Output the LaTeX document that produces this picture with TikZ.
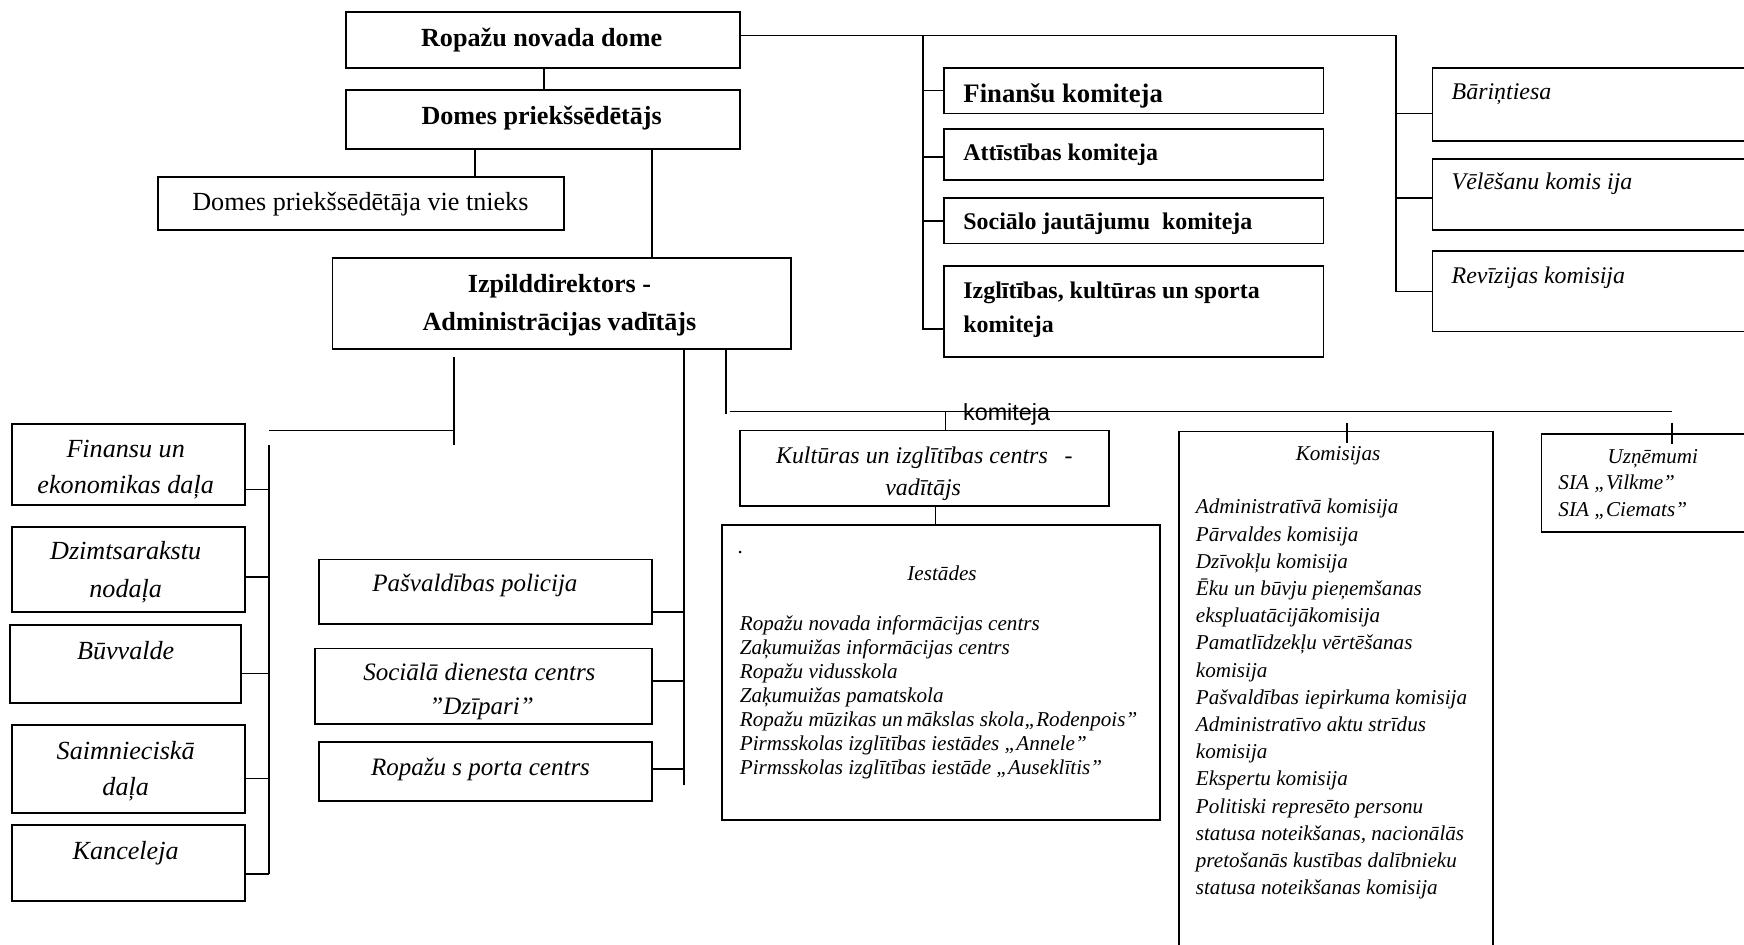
\documentclass[tikz,border=0pt]{standalone}
\usepackage{fontspec}
\setmainfont{Liberation Serif}
\newfontfamily\arialf{Liberation Sans}
\usetikzlibrary{fit}
\begin{document}
\begin{tikzpicture}[x=1pt,y=-1pt,
  box/.style={draw, line width=1.6pt, inner sep=0pt},
  ln/.style={line width=1.5pt},
  tb/.style={inner sep=0pt, anchor=base, font=\fontsize{23.5}{27}\selectfont\bfseries},
  tr/.style={inner sep=0pt, anchor=base, font=\fontsize{23.5}{27}\selectfont},
  tk/.style={inner sep=0pt, anchor=base west, font=\fontsize{21.5}{25}\selectfont\bfseries},
  ti/.style={inner sep=0pt, anchor=base, font=\fontsize{23.5}{27}\selectfont\itshape},
  tim/.style={inner sep=0pt, anchor=base, font=\fontsize{21.5}{25}\selectfont\itshape},
  tir/.style={inner sep=0pt, anchor=base west, font=\fontsize{21.5}{25}\selectfont\itshape},
  tis/.style={inner sep=0pt, anchor=base, font=\fontsize{19}{22}\selectfont\itshape},
  til/.style={inner sep=0pt, anchor=base west, font=\fontsize{19}{22}\selectfont\itshape}]
\useasboundingbox (0,0) rectangle (1568,849);
\clip (0,0) rectangle (1568,849);

% ---------- boxes ----------
\node[box, fit={(311,11) (665,61)}] (dome) {};
\node[box, fit={(311,81) (665,134)}] (pr) {};
\node[box, fit={(142,159) (507,207)}] (viet) {};
\node[box, fit={(299,232) (711,314)}] (izp) {};
\node[box, fit={(849,61) (1190,102)}] (fk) {};
\node[box, fit={(849,116) (1190,162)}] (ak) {};
\node[box, fit={(849,178) (1190,219)}] (sk) {};
\node[box, fit={(849,239) (1190,321)}] (ik) {};
\node[box, fit={(1288,61) (1600,127)}] (bt) {};
\node[box, fit={(1288,143) (1600,207)}] (vk) {};
\node[box, fit={(1288,226) (1600,298)}] (rk) {};
\node[box, fit={(11,381) (220,454)}] (fin) {};
\node[box, fit={(11,474) (220,550)}] (dz) {};
\node[box, fit={(9,562) (217,632)}] (buv) {};
\node[box, fit={(11,652) (220,731)}] (saim) {};
\node[box, fit={(11,742) (220,810)}] (kanc) {};
\node[box, fit={(287,503) (586,561)}] (pol) {};
\node[box, fit={(283,583) (586,651)}] (soc) {};
\node[box, fit={(287,667) (586,720)}] (sport) {};
\node[box, fit={(665,387) (997,455)}] (kult) {};
\node[box, fit={(649,472) (1043,737)}] (iest) {};
\node[box, fit={(1060,388) (1342,880)}] (kom) {};
\node[box, fit={(1386,390) (1600,478)}] (uzn) {};

% ---------- texts ----------
\node[tb] (tdome) at (487,42) {Ropažu novada dome};
\node[tb] (tpr) at (487,112) {Domes priekšsēdētājs};
\node[tr] (tviet) at (324,189) {Domes priekšsēdētāja vie tnieks};
\node[tb] (tizp1) at (503,263) {Izpilddirektors -};
\node[tb] (tizp2) at (503,297) {Administrācijas vadītājs};

\node[tk, font=\fontsize{24}{28}\selectfont\bfseries] (tfk) at (866,92) {Finanšu komiteja};
\node[tk] (tak) at (866,144.5) {Attīstības komiteja};
\node[tk] (tsk) at (866,206.5) {Sociālo jautājumu\ \ komiteja};
\node[tk] (tik1) at (866,268.5) {Izglītības, kultūras un sporta};
\node[tk] (tik2) at (866,298.5) {komiteja};

\node[tir] (tbt) at (1305,89.5) {Bāriņtiesa};
\node[tir] (tvk) at (1305,170.5) {Vēlēšanu komis ija};
\node[tir] (trk) at (1305,254.5) {Revīzijas komisija};

\node[ti] (tfin1) at (113,411) {Finansu un};
\node[ti] (tfin2) at (113,444) {ekonomikas daļa};
\node[ti] (tdz1) at (113,503) {Dzimtsarakstu};
\node[ti] (tdz2) at (113,537) {nodaļa};
\node[ti] (tbuv) at (113,593) {Būvvalde};
\node[ti] (tsaim1) at (113,683) {Saimnieciskā};
\node[ti] (tsaim2) at (113,715) {daļa};
\node[ti] (tkanc) at (113,773) {Kanceleja};

\node[ti, font=\fontsize{22.5}{27}\selectfont\itshape] (tpol) at (427,532) {Pašvaldības policija};
\node[ti, font=\fontsize{22.5}{27}\selectfont\itshape] (tsoc1) at (431,612) {Sociālā dienesta centrs};
\node[ti, font=\fontsize{22.5}{27}\selectfont\itshape] (tsoc2) at (433,642) {”Dzīpari”};
\node[ti, font=\fontsize{22.5}{27}\selectfont\itshape] (tsport) at (432,697) {Ropažu s porta centrs};

\node[tim] (tkult1) at (831,416.5) {Kultūras un izglītības centrs\hspace{0.7em}-};
\node[tim] (tkult2) at (830,445.5) {vadītājs};

\node[inner sep=0pt, anchor=base, font=\arialf\fontsize{21}{25}\selectfont] (tkomit) at (905,378) {komiteja};

\node[tis] (tdot) at (666,498) {.};
\node[tis] (tiest) at (847,522) {Iestādes};
\foreach \t [count=\i from 0] in {Ropažu novada informācijas centrs, Zaķumuižas informācijas centrs, Ropažu vidusskola, Zaķumuižas pamatskola, Ropažu mūzikas un\,mākslas skola„Rodenpois”, Pirmsskolas izglītības iestādes „Annele”, Pirmsskolas izglītības iestāde „Auseklītis”}
  \node[til] (iestl\i) at (665,{567+21.6*\i}) {\t};

\node[tis] (tkom) at (1203,414) {Komisijas};
\foreach \t [count=\i from 0] in {Administratīvā komisija, Pārvaldes komisija, Dzīvokļu komisija, Ēku un būvju pieņemšanas, ekspluatācijākomisija, Pamatlīdzekļu vērtēšanas, komisija, Pašvaldības iepirkuma komisija, Administratīvo aktu strīdus, komisija, Ekspertu komisija, Politiski represēto personu, {statusa noteikšanas, nacionālās}, pretošanās kustības dalībnieku, statusa noteikšanas komisija}
  \node[til] (koml\i) at (1075,{462+24.45*\i}) {\t};

\node[tis] (tuzn) at (1486,417) {Uzņēmumi};
\node[til] (tuzn1) at (1401,440) {SIA „Vilkme”};
\node[til] (tuzn2) at (1401,464) {SIA „Ciemats”};

% ---------- connectors ----------
\coordinate (X489) at (489,0);
\coordinate (X427) at (427,0);
\coordinate (X586) at (586,0);
\draw[ln] (dome.south -| X489) -- (pr.north -| X489);
\draw[ln] (pr.south -| X427) -- (viet.north -| X427);
\draw[ln] (pr.south -| X586) -- (izp.north -| X586);

% council branches
\coordinate (h1) at (1255,32);
\coordinate (v1) at (830,32);
\draw[ln] (dome.east |- h1) -- (h1) -- (h1 |- rk.west) -- (rk.west);
\coordinate (btc) at ([yshift=-8pt]bt.west);
\coordinate (vkc) at ([yshift=-3pt]vk.west);
\draw[ln] (btc) -- (btc -| h1);
\draw[ln] (vkc) -- (vkc -| h1);
\coordinate (ikc) at ([yshift=-16pt]ik.west);
\draw[ln] (v1) -- (v1 |- ikc) -- (ikc);
\draw[ln] (fk.west) -- (fk.west -| v1);
\coordinate (akc) at ([yshift=-2pt]ak.west);
\draw[ln] (akc) -- (akc -| v1);
\draw[ln] (sk.west) -- (sk.west -| v1);

% left bus
\coordinate (a1) at (408,321);
\coordinate (a2) at (408,400);
\coordinate (a3) at (242,387);
\coordinate (lb1) at (242,400);
\coordinate (lb2) at (242,786);
\draw[ln] (a1) -- (a2);
\draw[ln] (a3) -- (a3 -| a1);
\draw[ln] (lb1) -- (lb2);
\coordinate (finc) at ([yshift=-22.5pt]fin.east);
\coordinate (dzc) at ([yshift=-7pt]dz.east);
\coordinate (buvc) at ([yshift=-8.5pt]buv.east);
\coordinate (saimc) at ([yshift=-8.5pt]saim.east);
\coordinate (kancc) at ([yshift=-10pt]kanc.east);
\draw[ln] (finc) -- (finc -| lb1);
\draw[ln] (dzc) -- (dzc -| lb1);
\draw[ln] (buvc) -- (buvc -| lb1);
\draw[ln] (saimc) -- (saimc -| lb1);
\draw[ln] (kancc) -- (kancc -| lb1);

% middle bus
\coordinate (m1) at (615,706);
\draw[ln] (izp.south -| m1) -- (m1);
\coordinate (polc) at ([yshift=-18pt]pol.east);
\coordinate (socc) at ([yshift=5pt]soc.east);
\coordinate (sportc) at ([yshift=2pt]sport.east);
\draw[ln] (polc) -- (polc -| m1);
\draw[ln] (socc) -- (socc -| m1);
\draw[ln] (sportc) -- (sportc -| m1);

% right bus
\coordinate (r1) at (653,372);
\coordinate (r2) at (656,370);
\coordinate (r3) at (1503,370);
\draw[ln] (izp.south -| r1) -- (r1);
\draw[ln] (r2) -- (r3);
\coordinate (kt) at (850,370);
\draw[ln] (kt) -- (kt |- kult.north);
\coordinate (kmt1) at (1211,380);
\coordinate (kmt2) at (1211,398);
\draw[ln] (kmt1) -- (kmt2);
\coordinate (ut1) at (1503,380);
\coordinate (ut2) at (1503,399);
\draw[ln] (ut1) -- (ut2);
\coordinate (ki) at (841,0);
\draw[ln] (kult.south -| ki) -- (iest.north -| ki);
\end{tikzpicture}
\end{document}
